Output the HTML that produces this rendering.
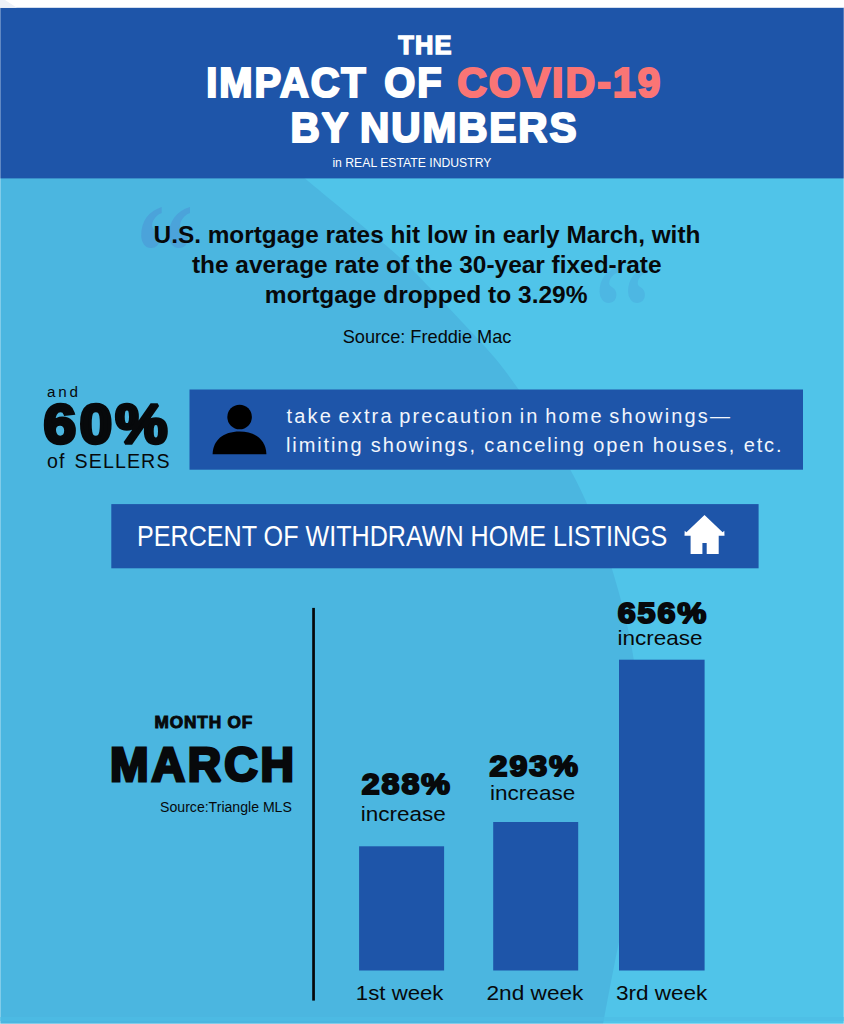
<!DOCTYPE html>
<html lang="en">
<head>
<meta charset="utf-8">
<title>The Impact of COVID-19 by Numbers in Real Estate Industry</title>
<style>
html,body{margin:0;padding:0;background:#fff;}
body{width:844px;height:1024px;overflow:hidden;font-family:"Liberation Sans",sans-serif;}
svg{display:block;}
svg text{font-family:"Liberation Sans",sans-serif;white-space:pre;}
svg .q text{font-family:"Liberation Serif",serif;}
</style>
</head>
<body>
<svg width="844" height="1024" viewBox="0 0 844 1024">
<!-- backgrounds -->
<rect x="0" y="0" width="844" height="1024" fill="#ffffff"/>
<rect x="0" y="178" width="844" height="846" fill="#4bb6e0"/>
<path d="M304.5 178 C310.4 182.9 324.6 194.8 340 207.6 C355.4 220.4 381.8 241.4 397 255 C412.2 268.6 420.3 277.9 431 289 C441.7 300.1 449.7 308.6 461.3 321.3 C472.9 334.0 487.5 348.4 500.6 365 C513.7 381.6 528.3 403.3 540 421 C551.7 438.7 562.0 454.5 571 471 C580.0 487.5 587.2 503.7 594 520 C600.8 536.3 605.8 548.5 612 569 C618.2 589.5 626.3 617.8 631 643 C635.7 668.2 638.2 693.8 640 720 C641.8 746.2 643.0 773.3 642 800 C641.0 826.7 637.8 856.3 634 880 C630.2 903.7 624.2 918.0 619 942 C613.8 966.0 605.7 1010.3 603 1024 L844 1024 L844 178 Z" fill="#50c4e9"/>
<rect x="0" y="7.8" width="844" height="170.6" fill="#1e55a9"/>
<path d="M0 0 L5 0 L17 7.8 L0 7.8 Z" fill="#edf1f8"/>
<!-- edge tints -->
<rect x="0" y="8" width="1" height="1016" fill="#ffffff" opacity="0.3"/>
<rect x="843" y="8" width="1" height="1016" fill="#ffffff" opacity="0.25"/>
<rect x="0" y="1017" width="844" height="4" fill="#4cbce4" opacity="0.6"/>
<rect x="0" y="1023" width="844" height="1" fill="#ffffff" opacity="0.3"/>
<!-- decorative quotes -->
<g font-size="120" font-weight="700" class="q">
<text transform="translate(129.0 297.1) scale(0.90 1.128)" font-style="italic" fill="#4ba3da">‘</text>
<text transform="translate(156.3 297.1) scale(0.93 1.128)" font-style="italic" fill="#4ba3da">‘</text>
<text transform="translate(592.1 346.5) scale(0.80 1.0)" fill="#4db7e3">‘</text>
<text transform="translate(620.6 346.5) scale(0.80 1.0)" fill="#4db7e3">‘</text>
</g>
<!-- boxes -->
<rect x="189.5" y="389.5" width="613.5" height="80.2" fill="#1e55a9"/>
<rect x="111.3" y="504.1" width="647.3" height="64.2" fill="#1e55a9"/>
<!-- person icon -->
<circle cx="239.6" cy="417" r="12.3" fill="#000"/>
<path d="M212.6 454.3 C212.9 440.2 223.2 431.5 239.5 431.5 C255.8 431.5 266.1 440.2 266.4 454.3 Z" fill="#000"/>
<!-- house icon -->
<path d="M704.5 515 L722.6 532.3 L724.3 530.7 L724.5 535.7 L718.7 535.7 L718.7 553.9 L706.7 553.9 L706.7 543 L702.4 543 L702.4 553.9 L690.6 553.9 L690.6 535.7 L684.5 535.7 L684.7 530.7 L686.4 532.3 Z" fill="#fff"/>
<!-- chart -->
<rect x="312.2" y="607.9" width="2.7" height="392.7" fill="#05070a"/>
<rect x="359.1" y="846.3" width="85" height="124.2" fill="#1e55a9"/>
<rect x="493.2" y="822" width="85" height="148.5" fill="#1e55a9"/>
<rect x="619" y="659.7" width="85.6" height="310.8" fill="#1e55a9"/>
<!-- text -->
<text transform="translate(398.20 54.0) scale(0.9637 1)" font-size="26.4" font-weight="700" fill="#ffffff" stroke="#ffffff" stroke-width="1.4" stroke-linejoin="miter" stroke-miterlimit="2" letter-spacing="1.2">THE</text>
<text transform="translate(206.33 97.4) scale(0.9373 1)" font-size="42.6" font-weight="700" fill="#ffffff" stroke="#ffffff" stroke-width="2.2" stroke-linejoin="miter" stroke-miterlimit="2" letter-spacing="2.0" word-spacing="4">IMPACT OF</text>
<text transform="translate(457.13 97.4) scale(0.9666 1)" font-size="42.6" font-weight="700" fill="#fa7575" stroke="#fa7575" stroke-width="2.2" stroke-linejoin="miter" stroke-miterlimit="2" letter-spacing="2.0">COVID-19</text>
<text transform="translate(290.41 142.1) scale(0.9434 1)" font-size="43.0" font-weight="700" fill="#ffffff" stroke="#ffffff" stroke-width="2.2" stroke-linejoin="miter" stroke-miterlimit="2" letter-spacing="2.0" word-spacing="-3">BY NUMBERS</text>
<text transform="translate(332.40 166.9) scale(0.9190 1)" font-size="13.3" fill="#ffffff">in REAL ESTATE INDUSTRY</text>
<text transform="translate(153.56 242.7) scale(1.0417 1)" font-size="23.4" font-weight="700" fill="#07090b">U.S. mortgage rates hit low in early March, with</text>
<text transform="translate(191.90 273.0) scale(1.0445 1)" font-size="23.4" font-weight="700" fill="#07090b">the average rate of the 30-year fixed-rate</text>
<text transform="translate(264.85 303.3) scale(1.0475 1)" font-size="23.4" font-weight="700" fill="#07090b">mortgage dropped to 3.29%</text>
<text transform="translate(342.70 343.4) scale(0.9670 1)" font-size="18.8" fill="#07090b">Source: Freddie Mac</text>
<text x="46.90" y="396.7" font-size="15.2" fill="#07090b" letter-spacing="2.803">and</text>
<text transform="translate(43.55 443.0) scale(1.0504 1)" font-size="56.0" font-weight="700" fill="#07090b" stroke="#07090b" stroke-width="3.5" stroke-linejoin="miter" stroke-miterlimit="2" letter-spacing="3.0">60%</text>
<text x="46.90" y="467.9" font-size="19.6" fill="#07090b" letter-spacing="1.118" word-spacing="2.5">of SELLERS</text>
<text x="286.50" y="423.1" font-size="20.0" fill="#f2f6fc" letter-spacing="2.160" word-spacing="-2.2">take extra precaution in home showings—</text>
<text x="286.00" y="451.8" font-size="20.0" fill="#f2f6fc" letter-spacing="1.896">limiting showings, canceling open houses, etc.</text>
<text transform="translate(137.07 545.5) scale(0.8664 1)" font-size="29.0" fill="#ffffff">PERCENT OF WITHDRAWN HOME LISTINGS</text>
<text transform="translate(154.58 727.8) scale(1.0697 1)" font-size="16.1" font-weight="700" fill="#07090b" stroke="#07090b" stroke-width="0.9" stroke-linejoin="miter" stroke-miterlimit="2" letter-spacing="0.8">MONTH OF</text>
<text transform="translate(110.04 780.7) scale(0.9536 1)" font-size="48.6" font-weight="700" fill="#07090b" stroke="#07090b" stroke-width="3.0" stroke-linejoin="miter" stroke-miterlimit="2" letter-spacing="3.0">MARCH</text>
<text transform="translate(160.10 812.0) scale(0.9331 1)" font-size="15.1" fill="#07090b">Source:Triangle MLS</text>
<text transform="translate(361.69 794.3) scale(1.1093 1)" font-size="29.0" font-weight="700" fill="#07090b" stroke="#07090b" stroke-width="2.0" stroke-linejoin="miter" stroke-miterlimit="2" letter-spacing="1.8">288%</text>
<text transform="translate(360.72 820.9) scale(1.0770 1)" font-size="20.9" fill="#07090b">increase</text>
<text transform="translate(489.59 776.3) scale(1.1093 1)" font-size="29.0" font-weight="700" fill="#07090b" stroke="#07090b" stroke-width="2.0" stroke-linejoin="miter" stroke-miterlimit="2" letter-spacing="1.8">293%</text>
<text transform="translate(490.02 800.0) scale(1.0796 1)" font-size="20.9" fill="#07090b">increase</text>
<text transform="translate(617.69 622.9) scale(1.1119 1)" font-size="29.0" font-weight="700" fill="#07090b" stroke="#07090b" stroke-width="2.0" stroke-linejoin="miter" stroke-miterlimit="2" letter-spacing="1.8">656%</text>
<text transform="translate(617.62 644.7) scale(1.0757 1)" font-size="20.9" fill="#07090b">increase</text>
<text transform="translate(355.84 1000.3) scale(1.0574 1)" font-size="21.0" fill="#07090b">1st week</text>
<text transform="translate(486.42 1000.3) scale(1.0795 1)" font-size="21.0" fill="#07090b">2nd week</text>
<text transform="translate(616.00 1000.3) scale(1.0734 1)" font-size="21.0" fill="#07090b">3rd week</text>
</svg>
</body>
</html>
